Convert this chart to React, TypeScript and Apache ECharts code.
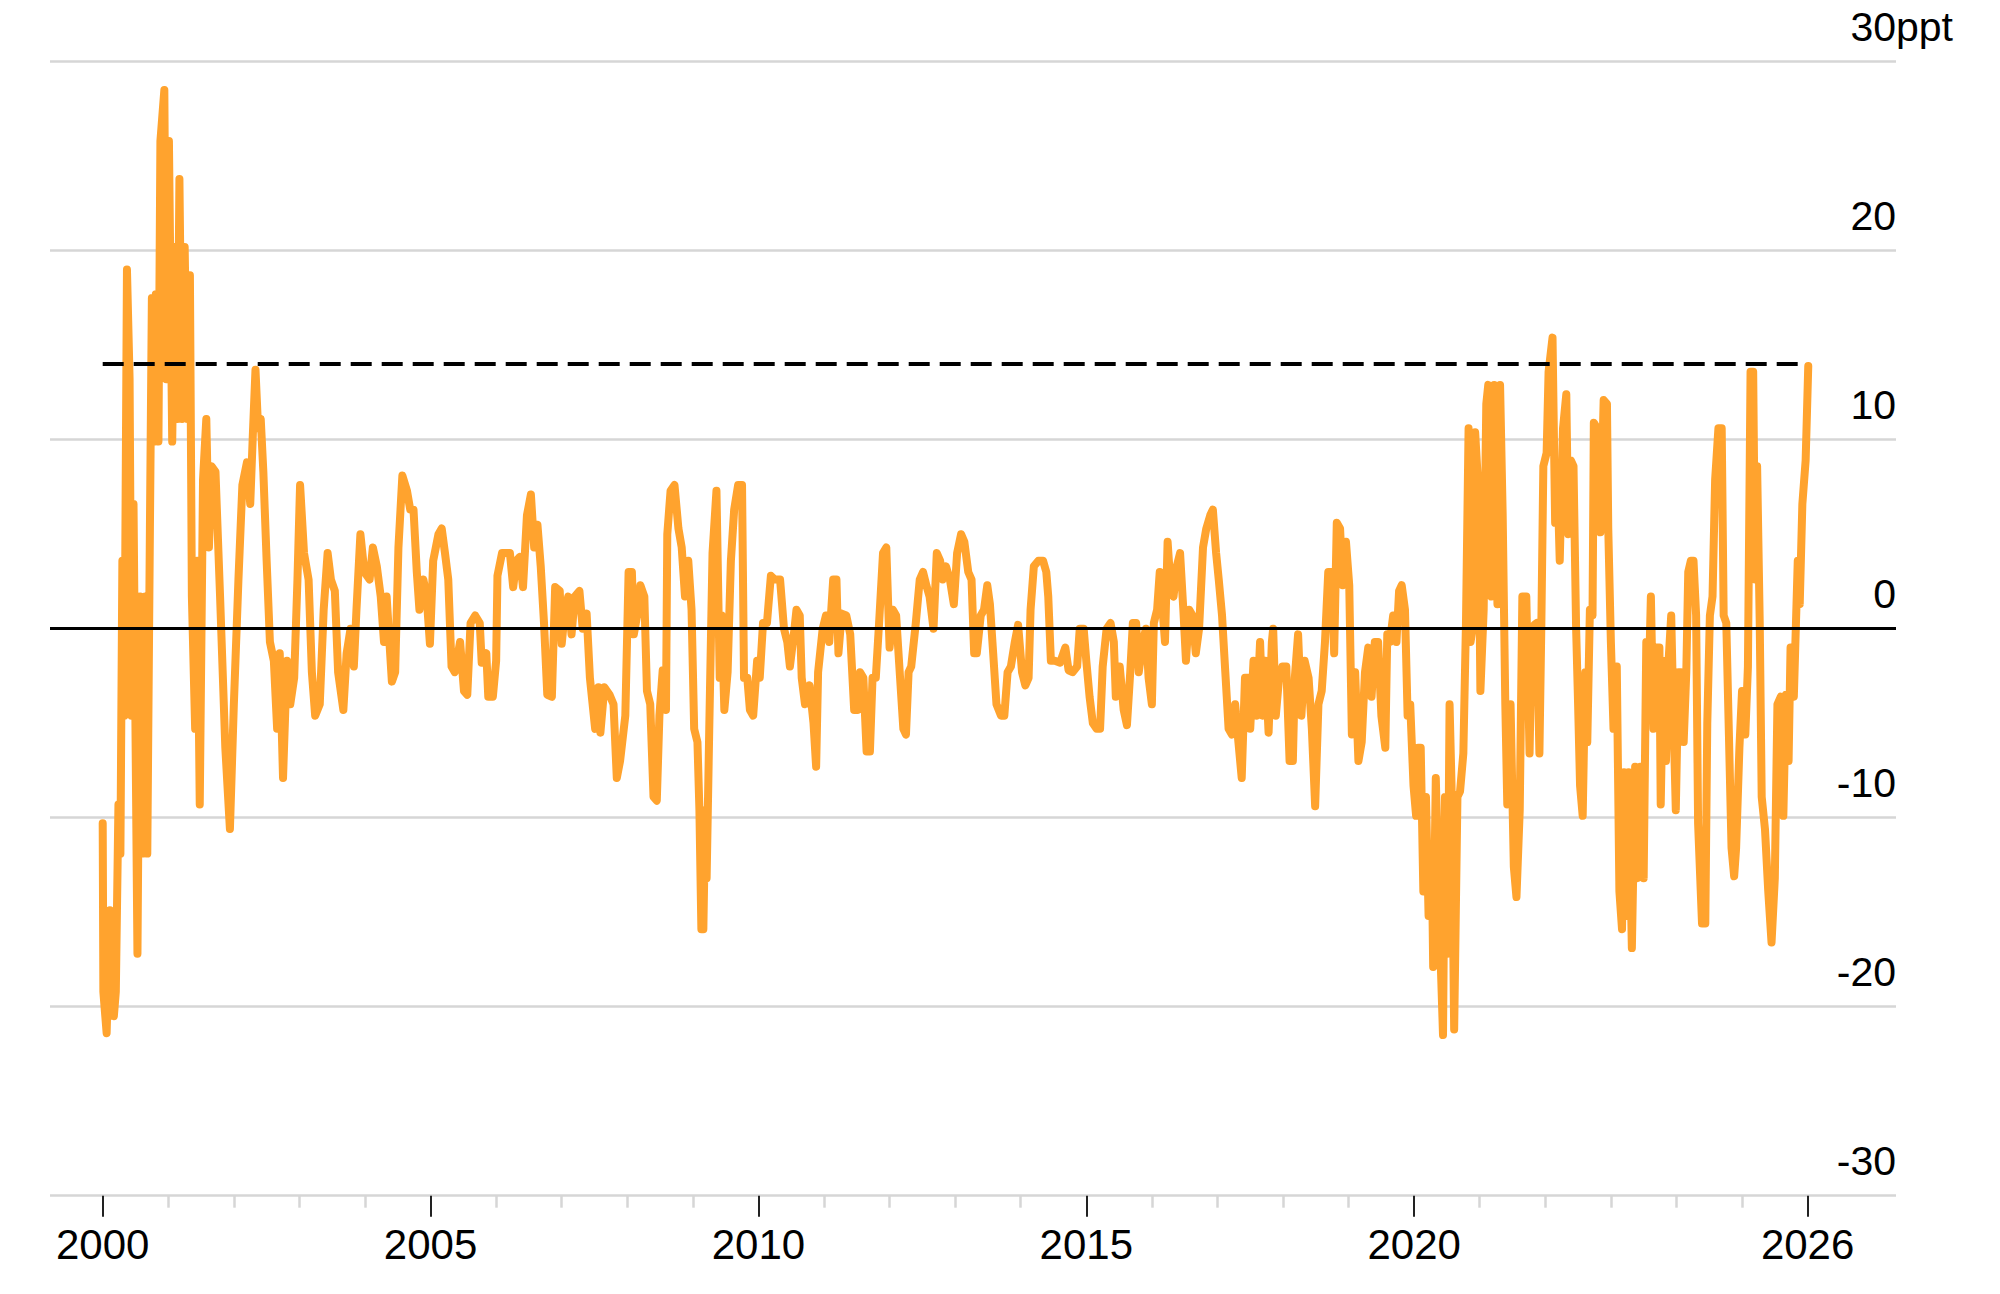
import React, { useEffect, useRef } from "react";
import * as echarts from "echarts";

// ---- DATA ----
const years: number[] = [
  2000.0, 2000.01, 2000.06, 2000.11, 2000.17, 2000.2, 2000.24, 2000.27, 2000.3, 2000.33, 2000.37, 2000.41, 2000.44, 2000.47, 2000.53, 2000.57, 2000.61, 2000.65, 2000.68, 2000.72, 2000.75, 2000.78, 2000.81, 2000.85, 2000.88, 2000.94, 2000.97,
  2001.01, 2001.06, 2001.1, 2001.14, 2001.17, 2001.21, 2001.25, 2001.29, 2001.33, 2001.36, 2001.41, 2001.44, 2001.48, 2001.53, 2001.58, 2001.62, 2001.66, 2001.72, 2001.79, 2001.87, 2001.94,
  2002.0, 2002.07, 2002.13, 2002.2, 2002.25, 2002.29, 2002.33, 2002.37, 2002.41, 2002.45, 2002.5, 2002.55, 2002.61, 2002.66, 2002.7, 2002.75, 2002.81, 2002.86, 2002.92, 2002.97,
  2003.01, 2003.07, 2003.14, 2003.19, 2003.24, 2003.31, 2003.37, 2003.43, 2003.48, 2003.54, 2003.59, 2003.67, 2003.72, 2003.78, 2003.83, 2003.87, 2003.93, 2003.99,
  2004.07, 2004.12, 2004.18, 2004.24, 2004.29, 2004.33, 2004.41, 2004.46, 2004.51, 2004.57, 2004.64, 2004.69, 2004.74, 2004.79, 2004.83, 2004.89, 2004.94, 2004.99,
  2005.04, 2005.12, 2005.17, 2005.22, 2005.27, 2005.32, 2005.37, 2005.45, 2005.51, 2005.56, 2005.61, 2005.68, 2005.75, 2005.78, 2005.85, 2005.88, 2005.95,
  2006.0, 2006.02, 2006.09, 2006.16, 2006.21, 2006.26, 2006.31, 2006.36, 2006.41, 2006.47, 2006.53, 2006.58, 2006.63, 2006.68, 2006.73, 2006.78, 2006.85, 2006.9, 2006.97,
  2007.0, 2007.05, 2007.1, 2007.15, 2007.2, 2007.27, 2007.32, 2007.38, 2007.43, 2007.51, 2007.56, 2007.59, 2007.65, 2007.73, 2007.79, 2007.84, 2007.89, 2007.97,
  2008.02, 2008.07, 2008.1, 2008.15, 2008.2, 2008.26, 2008.3, 2008.35, 2008.4, 2008.45, 2008.49, 2008.54, 2008.59, 2008.61, 2008.66, 2008.72, 2008.78, 2008.83, 2008.88, 2008.93, 2008.98,
  2009.02, 2009.07, 2009.1, 2009.13, 2009.16, 2009.19, 2009.21, 2009.25, 2009.3, 2009.36, 2009.41, 2009.44, 2009.48, 2009.53, 2009.58, 2009.63, 2009.69, 2009.75, 2009.78, 2009.83, 2009.87, 2009.92, 2009.98,
  2010.02, 2010.07, 2010.13, 2010.19, 2010.25, 2010.33, 2010.39, 2010.44, 2010.48, 2010.54, 2010.58, 2010.63, 2010.66, 2010.71, 2010.78, 2010.84, 2010.88, 2010.91, 2010.98,
  2011.03, 2011.08, 2011.14, 2011.19, 2011.22, 2011.27, 2011.34, 2011.4, 2011.46, 2011.51, 2011.55, 2011.6, 2011.65, 2011.7, 2011.74, 2011.79, 2011.84, 2011.9, 2011.95,
  2012.0, 2012.05, 2012.1, 2012.16, 2012.21, 2012.25, 2012.29, 2012.33, 2012.4, 2012.46, 2012.51, 2012.56, 2012.61, 2012.67, 2012.72, 2012.77, 2012.81, 2012.86, 2012.92, 2012.98,
  2013.03, 2013.09, 2013.14, 2013.2, 2013.25, 2013.29, 2013.33, 2013.39, 2013.44, 2013.49, 2013.53, 2013.58, 2013.63, 2013.7, 2013.75, 2013.8, 2013.85, 2013.91, 2013.96,
  2014.02, 2014.07, 2014.12, 2014.15, 2014.2, 2014.27, 2014.34, 2014.39, 2014.42, 2014.46, 2014.52, 2014.6, 2014.68, 2014.73, 2014.79, 2014.86, 2014.9, 2014.96,
  2015.0, 2015.05, 2015.1, 2015.16, 2015.21, 2015.25, 2015.31, 2015.37, 2015.42, 2015.45, 2015.51, 2015.57, 2015.62, 2015.67, 2015.71, 2015.76, 2015.8, 2015.86, 2015.91, 2015.95,
  2016.0, 2016.03, 2016.08, 2016.12, 2016.17, 2016.2, 2016.24, 2016.29, 2016.33, 2016.38, 2016.43, 2016.48, 2016.52, 2016.57, 2016.62, 2016.67, 2016.72, 2016.78, 2016.83, 2016.89, 2016.93, 2016.98,
  2017.02, 2017.07, 2017.12, 2017.17, 2017.22, 2017.27, 2017.32, 2017.37, 2017.42, 2017.47, 2017.5, 2017.55, 2017.6, 2017.65, 2017.69, 2017.73, 2017.78, 2017.83, 2017.85, 2017.89, 2017.94, 2017.99,
  2018.05, 2018.1, 2018.15, 2018.18, 2018.23, 2018.28, 2018.33, 2018.39, 2018.44, 2018.49, 2018.54, 2018.59, 2018.64, 2018.69, 2018.74, 2018.78, 2018.82, 2018.87, 2018.91, 2018.96,
  2019.01, 2019.05, 2019.1, 2019.15, 2019.2, 2019.25, 2019.3, 2019.35, 2019.4, 2019.45, 2019.5, 2019.56, 2019.59, 2019.63, 2019.68, 2019.73, 2019.77, 2019.81, 2019.86, 2019.9, 2019.94, 2019.99,
  2020.03, 2020.06, 2020.1, 2020.14, 2020.18, 2020.22, 2020.27, 2020.29, 2020.33, 2020.38, 2020.44, 2020.47, 2020.51, 2020.54, 2020.57, 2020.61, 2020.66, 2020.7, 2020.75, 2020.79, 2020.83, 2020.86, 2020.89, 2020.93, 2020.98,
  2021.01, 2021.06, 2021.1, 2021.13, 2021.18, 2021.22, 2021.27, 2021.31, 2021.35, 2021.39, 2021.42, 2021.47, 2021.52, 2021.56, 2021.61, 2021.65, 2021.71, 2021.76, 2021.79, 2021.83, 2021.87, 2021.91, 2021.94, 2021.97,
  2022.02, 2022.05, 2022.11, 2022.15, 2022.18, 2022.22, 2022.27, 2022.32, 2022.35, 2022.39, 2022.43, 2022.47, 2022.5, 2022.53, 2022.57, 2022.61, 2022.64, 2022.68, 2022.72, 2022.74, 2022.79, 2022.84, 2022.89, 2022.94, 2022.96,
  2023.0, 2023.04, 2023.09, 2023.13, 2023.17, 2023.2, 2023.24, 2023.27, 2023.32, 2023.37, 2023.4, 2023.45, 2023.5, 2023.54, 2023.57, 2023.61, 2023.65, 2023.69, 2023.74, 2023.76, 2023.8, 2023.84, 2023.88, 2023.92, 2023.95, 2023.99,
  2024.03, 2024.07, 2024.11, 2024.15, 2024.18, 2024.22, 2024.26, 2024.3, 2024.33, 2024.39, 2024.44, 2024.47, 2024.51, 2024.55, 2024.59, 2024.64, 2024.69, 2024.72, 2024.76, 2024.8, 2024.84, 2024.88, 2024.91, 2024.96,
  2025.0, 2025.05, 2025.09, 2025.13, 2025.17, 2025.2, 2025.23, 2025.27, 2025.3, 2025.35, 2025.4, 2025.45, 2025.5, 2025.54, 2025.59, 2025.63, 2025.67, 2025.71, 2025.74, 2025.79, 2025.85, 2025.88, 2025.92, 2025.97, 2026.01,
];

const values: number[] = [
  -10.3, -19.2, -21.4, -14.9, -20.5, -19.2, -9.3, -11.9, 3.6, -4.6, 19.0, 13.2, -4.6, 6.6, -17.2, 1.7, -11.9, 1.7, -11.9, 5.3, 17.5, 9.9, 17.7, 9.9, 25.8, 28.5, 13.2,
  25.8, 9.9, 20.2, 11.1, 23.8, 11.1, 20.2, 11.1, 18.7, 1.7, -5.3, 3.6, -9.3, 7.9, 11.1, 4.3, 8.6, 8.3, 1.7, -6.3, -10.6,
  -4.0, 2.6, 7.6, 8.8, 6.6, 10.3, 13.7, 10.6, 11.1, 8.3, 3.6, -0.7, -1.7, -5.3, -1.3, -7.9, -1.7, -4.0, -2.6, 2.6,
  7.6, 4.0, 2.6, -2.3, -4.6, -4.0, 1.0, 4.0, 2.6, 2.0, -2.3, -4.3, -1.3, 0.0, -2.0, 1.0, 5.0, 3.0,
  2.6, 4.3, 3.3, 1.7, -0.7, 1.7, -2.8, -2.3, 4.3, 8.1, 7.3, 6.3, 6.3, 3.0, 1.0, 2.6, 1.7, -0.8,
  3.6, 5.0, 5.3, 4.0, 2.6, -2.0, -2.3, -0.7, -3.3, -3.5, 0.3, 0.7, 0.3, -1.8, -1.3, -3.6, -3.6,
  -1.7, 2.8, 4.0, 4.0, 4.0, 2.2, 3.6, 3.8, 2.2, 6.0, 7.1, 4.3, 5.5, 3.3, 0.3, -3.5, -3.6, 2.2, 2.0,
  -0.8, 1.0, 1.7, -0.3, 1.7, 2.0, 0.0, 0.8, -2.6, -5.3, -3.1, -5.5, -3.1, -3.5, -4.0, -7.9, -7.0, -4.6,
  3.0, 3.0, -0.3, 0.7, 2.3, 1.7, -3.3, -4.0, -8.9, -9.1, -4.6, -2.2, -4.3, 5.0, 7.3, 7.6, 5.3, 4.3, 1.7, 3.6, 1.0,
  -5.3, -6.0, -9.6, -15.9, -15.9, -9.6, -13.2, -5.3, 4.0, 7.3, -2.6, 0.7, -4.3, -2.3, 3.6, 6.3, 7.6, 7.6, -2.6, -2.6, -4.3, -4.6, -1.7,
  -2.6, 0.3, 0.3, 2.8, 2.6, 2.6, 0.0, -0.7, -2.0, -0.3, 1.0, 0.7, -2.6, -4.0, -3.0, -5.0, -7.3, -2.3, 0.0,
  0.7, -0.7, 2.6, 2.6, -1.3, 0.8, 0.7, -0.3, -4.3, -4.3, -2.3, -2.6, -6.5, -6.5, -2.6, -2.6, 0.3, 4.0, 4.3,
  -1.0, 1.0, 0.7, -2.6, -5.3, -5.6, -2.3, -2.0, 0.3, 2.6, 3.0, 2.3, 1.7, 0.0, 4.0, 3.6, 2.6, 3.3, 2.6, 1.3,
  4.0, 5.0, 4.6, 3.0, 2.6, -1.3, -1.3, 0.7, 1.0, 2.3, 1.3, -1.3, -4.0, -4.6, -4.6, -2.3, -2.0, -0.7, 0.2,
  -2.3, -3.0, -2.6, 1.0, 3.3, 3.6, 3.6, 3.0, 1.7, -1.7, -1.7, -1.8, -1.0, -2.2, -2.3, -2.0, 0.0, 0.0,
  -1.7, -3.6, -5.0, -5.3, -5.3, -2.0, 0.0, 0.3, -0.7, -3.6, -2.0, -4.3, -5.1, -2.3, 0.3, 0.3, -2.3, -0.7, 0.0, -2.6,
  -4.0, 0.3, 1.0, 3.0, 0.7, -0.7, 4.6, 2.0, 1.7, 3.3, 4.0, 1.0, -1.7, 1.0, 0.7, -1.3, 0.0, 4.3, 5.3, 6.0, 6.3, 4.0,
  2.6, 0.7, -2.3, -5.3, -5.6, -4.0, -6.0, -7.9, -2.6, -2.6, -5.3, -1.7, -4.6, -0.7, -4.6, -1.7, -5.5, -0.7, 0.0, -4.6, -2.6, -2.0,
  -2.0, -7.0, -7.0, -2.6, -0.3, -4.6, -1.7, -2.6, -5.3, -9.4, -4.0, -3.3, -0.7, 3.0, 3.0, -1.3, 5.6, 5.3, 2.3, 4.6,
  2.3, -5.6, -2.3, -7.0, -6.0, -2.3, -1.0, -3.6, -0.7, -0.7, -4.6, -6.3, -0.3, -0.7, 0.7, -0.7, 2.0, 2.3, 1.0, -4.6, -4.0, -8.3,
  -9.9, -6.3, -6.3, -13.9, -8.9, -15.2, -12.3, -17.9, -7.9, -14.9, -21.5, -8.9, -17.2, -4.0, -8.3, -21.2, -8.9, -8.6, -6.6, 0.3, 10.6, -0.7, 0.0, 10.4, 7.3,
  -3.3, 1.0, 11.9, 12.9, 1.7, 12.9, 1.3, 12.9, 6.0, -4.0, -9.3, -4.0, -12.6, -14.2, -9.6, 1.7, 1.7, -6.6, -0.7, 0.2, 0.3, -6.6, 0.3, 8.6,
  9.3, 13.6, 15.4, 5.6, 8.6, 3.6, 10.6, 12.4, 5.0, 8.9, 8.6, 0.0, -4.0, -8.3, -9.9, -2.3, -6.0, 1.0, 0.7, 10.9, 10.6, 5.1, 12.1, 11.9, 5.3,
  -0.7, -5.3, -2.0, -13.9, -15.9, -7.6, -15.2, -7.6, -16.9, -7.3, -13.2, -7.3, -13.2, -0.7, -4.0, 1.7, -5.3, -1.0, -1.0, -9.3, -1.7, -7.0, -1.7, 0.7, -4.0, -9.6,
  -2.3, -2.3, -6.0, -2.3, 3.0, 3.6, 3.6, 0.7, -10.3, -15.6, -15.6, -5.0, 0.7, 1.7, 7.9, 10.6, 10.6, 0.7, 0.3, -5.6, -11.6, -13.1, -11.6, -6.3,
  -3.3, -5.6, -2.0, 13.6, 13.6, 2.6, 8.6, 0.3, -8.9, -10.6, -13.9, -16.6, -13.2, -4.0, -3.6, -9.9, -3.5, -7.0, -1.0, -3.6, 3.6, 1.3, 6.6, 8.9, 13.9,
];

const tickYears: string[] = [
  "2000", "2001", "2002", "2003", "2004", "2005", "2006", "2007", "2008", "2009",
  "2010", "2011", "2012", "2013", "2014", "2015", "2016", "2017", "2018", "2019",
  "2020", "2021", "2022", "2023", "2024", "2025", "2026",
];
const labelYears: string[] = ["2000", "2005", "2010", "2015", "2020", "2026"];
const yMin = -30;
const yMax = 30;
const yStep = 10;
const unitLabel = "ppt";
const thresholdValue = 14;
const thresholdFrom = 2000;
const thresholdTo = 2026;

// ---- LAYOUT ----
const W = 2000;
const H = 1294;
const PLOT_LEFT = 50;
const PLOT_RIGHT = 1896;
const PLOT_TOP = 61.7;
const PLOT_BOTTOM = 1195.7;
const X_FIRST = 102.7; // pixel of first year tick
const X_LAST = 1807.6; // pixel of last year tick
const firstYear = Number(tickYears[0]);
const lastYear = Number(tickYears[tickYears.length - 1]);
const pxPerYear = (X_LAST - X_FIRST) / (lastYear - firstYear);
const xMin = firstYear - (X_FIRST - PLOT_LEFT) / pxPerYear;
const xMax = lastYear + (PLOT_RIGHT - X_LAST) / pxPerYear;

const FONT = "'Liberation Sans', Arial, Helvetica, sans-serif";
const ORANGE = "#ffa32e";
const GRID_GRAY = "#d6d6d6";
const Y_LABEL_LIFT = 70; // line box height; the label sits in its middle, above the gridline

export default function App() {
  const ref = useRef<HTMLDivElement>(null);

  useEffect(() => {
    if (!ref.current) return;
    const chart = echarts.init(ref.current, null, { renderer: "svg", width: W, height: H });
    const isLabelYear = (_i: number, v: string) => labelYears.indexOf(String(v)) >= 0;
    const isMinorYear = (_i: number, v: string) => labelYears.indexOf(String(v)) < 0;

    const yLabelBase = {
      inside: true,
      margin: 0,
      fontFamily: FONT,
      fontSize: 41,
      lineHeight: Y_LABEL_LIFT,
      color: "#000000",
      verticalAlign: "bottom",
    };

    const option: any = {
      animation: false,
      backgroundColor: "#ffffff",
      textStyle: { fontFamily: FONT },
      grid: [
        {
          left: PLOT_LEFT, top: PLOT_TOP, width: PLOT_RIGHT - PLOT_LEFT, height: PLOT_BOTTOM - PLOT_TOP,
          containLabel: false, outerBoundsMode: "none",
        },
        {
          left: X_FIRST, top: PLOT_TOP, width: X_LAST - X_FIRST, height: PLOT_BOTTOM - PLOT_TOP,
          containLabel: false, outerBoundsMode: "none",
        },
      ],
      xAxis: [
        {
          type: "value",
          gridIndex: 0,
          min: xMin,
          max: xMax,
          axisLine: { show: false },
          axisTick: { show: false },
          axisLabel: { show: false },
          splitLine: { show: false },
        },
        {
          type: "category",
          gridIndex: 1,
          data: tickYears,
          boundaryGap: false,
          position: "bottom",
          axisLine: { show: false, onZero: false },
          axisTick: { show: true, interval: isMinorYear, length: 12, lineStyle: { color: GRID_GRAY, width: 2.5 } },
          axisLabel: { show: false },
          splitLine: { show: false },
        },
        {
          type: "category",
          gridIndex: 1,
          data: tickYears,
          boundaryGap: false,
          position: "bottom",
          axisLine: { show: false, onZero: false },
          axisTick: { show: true, interval: isLabelYear, length: 21, lineStyle: { color: "#222222", width: 2 } },
          axisLabel: {
            show: true,
            interval: isLabelYear,
            fontFamily: FONT,
            fontSize: 42,
            lineHeight: 42,
            color: "#000000",
            margin: 28,
          },
          splitLine: { show: false },
        },
      ],
      yAxis: [
        {
          type: "value",
          gridIndex: 0,
          position: "right",
          min: yMin,
          max: yMax,
          interval: yStep,
          axisLine: { show: false },
          axisTick: { show: false },
          splitLine: { show: true, lineStyle: { color: GRID_GRAY, width: 2.5 } },
          axisLabel: {
            ...yLabelBase,
            align: "right",
            formatter: (v: number) => String(v),
          },
        },
        {
          type: "value",
          gridIndex: 0,
          position: "right",
          min: yMin,
          max: yMax,
          interval: yStep,
          axisLine: { show: false },
          axisTick: { show: false },
          splitLine: { show: false },
          axisLabel: {
            ...yLabelBase,
            align: "left",
            formatter: (v: number) => (v === yMax ? unitLabel : ""),
          },
        },
        { type: "value", gridIndex: 1, show: false, min: yMin, max: yMax },
      ],
      series: [
        {
          type: "line",
          xAxisIndex: 0,
          yAxisIndex: 0,
          data: years.map((y, i) => [y, values[i]]),
          symbol: "none",
          showSymbol: false,
          smooth: false,
          z: 2,
          lineStyle: { color: ORANGE, width: 8, join: "round", cap: "round" },
          markLine: {
            silent: true,
            symbol: ["none", "none"],
            label: { show: false },
            emphasis: { disabled: true },
            data: [
              { yAxis: 0, lineStyle: { color: "#000000", width: 3, type: "solid" } },
              [
                { coord: [thresholdFrom, thresholdValue], lineStyle: { color: "#000000", width: 4, type: [21, 10] } },
                { coord: [thresholdTo, thresholdValue] },
              ],
            ],
          },
        },
      ],
    };

    chart.setOption(option);
    return () => chart.dispose();
  }, []);

  return (
    <div
      ref={ref}
      style={{ position: "fixed", left: 0, top: 0, width: W, height: H, background: "#ffffff" }}
    />
  );
}
